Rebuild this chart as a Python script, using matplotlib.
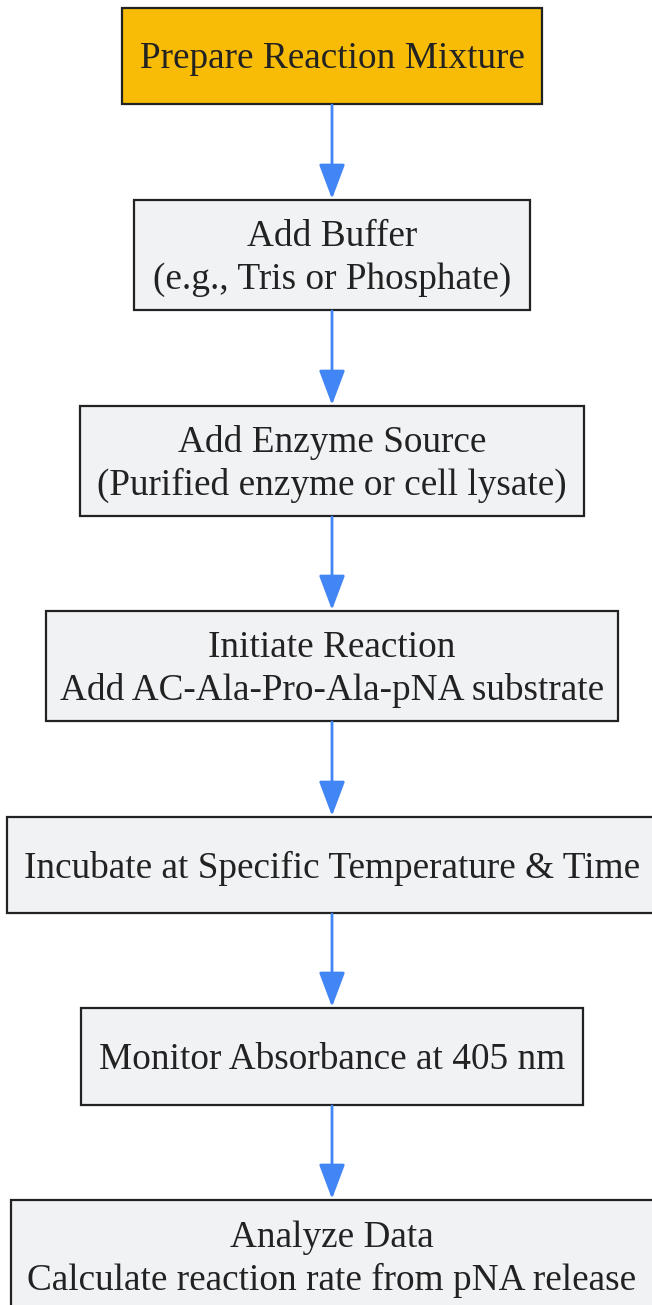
import matplotlib.pyplot as plt
from matplotlib.patches import Rectangle, FancyArrowPatch

# flowchart steps, top to bottom
labels = [
    "Prepare Reaction Mixture",
    "Add Buffer\n(e.g., Tris or Phosphate)",
    "Add Enzyme Source\n(Purified enzyme or cell lysate)",
    "Initiate Reaction\nAdd AC-Ala-Pro-Ala-pNA substrate",
    "Incubate at Specific Temperature & Time",
    "Monitor Absorbance at 405 nm",
    "Analyze Data\nCalculate reaction rate from pNA release",
]
# box extents in pixels: left, top, right, bottom
boxes = [
    (122, 8, 542, 104),
    (134, 200, 530, 310),
    (80, 406, 584, 516),
    (46, 611, 618, 721),
    (7, 817, 660, 913),
    (81, 1008, 583, 1105),
    (11, 1200, 660, 1312),
]
fills = ["#F9BC06"] + ["#F1F2F4"] * 6

W, H = 652, 1305
fig = plt.figure(figsize=(W / 100, H / 100), dpi=100)
ax = fig.add_axes([0, 0, 1, 1])
ax.set_xlim(0, W)
ax.set_ylim(H, 0)
ax.axis("off")

cx = 332
for lab, (l, t, r, b), fc in zip(labels, boxes, fills):
    ax.add_patch(Rectangle((l, t), r - l, b - t, facecolor=fc,
                           edgecolor="#222222", linewidth=1.6))
    ax.text(cx, (t + b) / 2 + 3, lab,
            ha="center", va="center", fontsize=26.8,
            family="Liberation Serif", color="#222222", linespacing=1.3)

for (_, _, _, b1), (_, t2, _, _) in zip(boxes[:-1], boxes[1:]):
    ax.add_patch(FancyArrowPatch((cx, b1 + 1), (cx, t2 - 1),
                                 arrowstyle="-|>,head_length=7.2,head_width=2.7",
                                 mutation_scale=3, color="#4285F4",
                                 linewidth=2, shrinkA=0, shrinkB=0))

fig.savefig("out.png", dpi=100)
